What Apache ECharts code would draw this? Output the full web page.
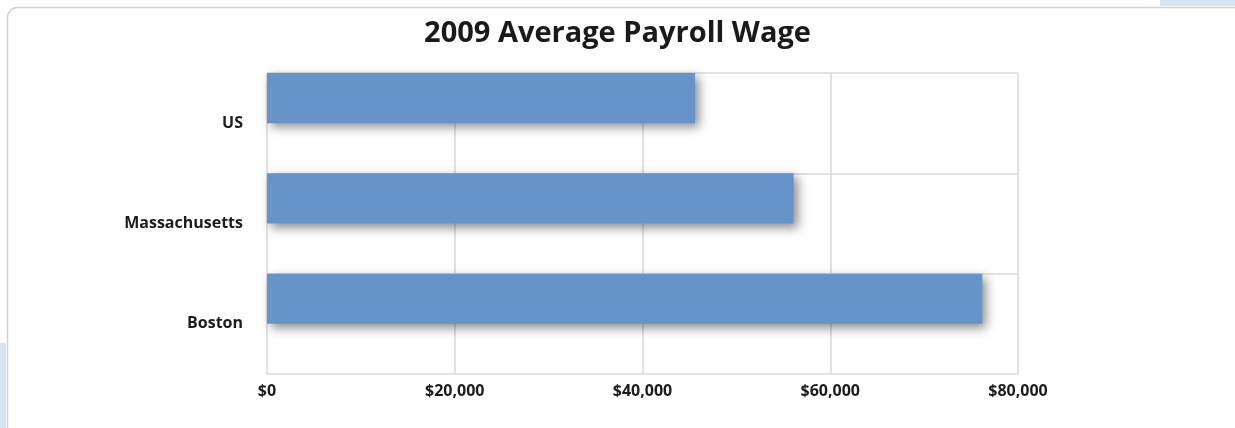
<!DOCTYPE html>
<html>
<head>
<meta charset="utf-8">
<script src="https://cdn.jsdelivr.net/npm/echarts@6/dist/echarts.min.js"></script>
<style>
  html, body { margin: 0; padding: 0; background: #ffffff; }
  #chart { width: 1235px; height: 428px; }
</style>
</head>
<body>
<div id="chart"></div>
<script>
// 2009 average payroll wage by area (US dollars)
const titleText = '2009 Average Payroll Wage';
const categories = ['US', 'Massachusetts', 'Boston'];
const wages = [45600, 56100, 76200];
const axisMin = 0;
const axisMax = 80000;
const axisStep = 20000;

const chart = echarts.init(document.getElementById('chart'), null, { renderer: 'canvas' });

const labelFont = {
  color: '#1c1c1c',
  fontFamily: '"Open Sans", "Noto Sans", sans-serif',
  fontWeight: 'bold',
  fontSize: 16
};

chart.setOption({
  animation: false,
  backgroundColor: '#ffffff',
  title: {
    text: titleText,
    left: 'center',
    top: 14,
    textStyle: {
      color: '#1a1a1a',
      fontFamily: '"Open Sans", "Noto Sans", sans-serif',
      fontWeight: 'bold',
      fontSize: 29
    }
  },
  graphic: [
    // card frame
    {
      type: 'rect', z: -10,
      shape: { x: 7.5, y: 7.5, width: 1300, height: 500, r: 10 },
      style: { fill: '#ffffff', stroke: '#d2d2d2', lineWidth: 1.5 }
    },
    // neighbouring panel edges
    {
      type: 'rect', z: -11,
      shape: { x: 1160, y: 0, width: 80, height: 6 },
      style: { fill: '#d7e3f0' }
    },
    {
      type: 'rect', z: -11,
      shape: { x: 0, y: 343, width: 6, height: 90 },
      style: { fill: '#d7e3f0' }
    }
  ],
  grid: {
    left: 267,
    right: 217,
    top: 73,
    bottom: 54,
    containLabel: false
  },
  xAxis: {
    type: 'value',
    min: axisMin,
    max: axisMax,
    interval: axisStep,
    axisLine: { show: false },
    axisTick: { show: false },
    splitLine: { show: true, lineStyle: { color: '#d9d9d9', width: 1.5 } },
    axisLabel: Object.assign({
      margin: 9,
      formatter: v => '$' + v.toLocaleString('en-US')
    }, labelFont)
  },
  yAxis: {
    type: 'category',
    data: categories,
    inverse: true,
    axisLine: { show: false },
    axisTick: { show: false },
    splitLine: { show: true, lineStyle: { color: '#d9d9d9', width: 1.5 } },
    axisLabel: Object.assign({ margin: 24 }, labelFont)
  },
  series: [
    {
      name: 'Average payroll wage',
      type: 'bar',
      data: wages,
      barGap: '0%',
      barCategoryGap: '0%',
      itemStyle: {
        color: '#6794c8',
        shadowColor: 'rgba(0,0,0,0.45)',
        shadowBlur: 10,
        shadowOffsetX: 4,
        shadowOffsetY: 4
      },
      z: 3
    },
    {
      name: 'spacer',
      type: 'bar',
      data: categories.map(() => null),
      barGap: '0%',
      barCategoryGap: '0%',
      silent: true
    }
  ]
});
</script>
</body>
</html>
